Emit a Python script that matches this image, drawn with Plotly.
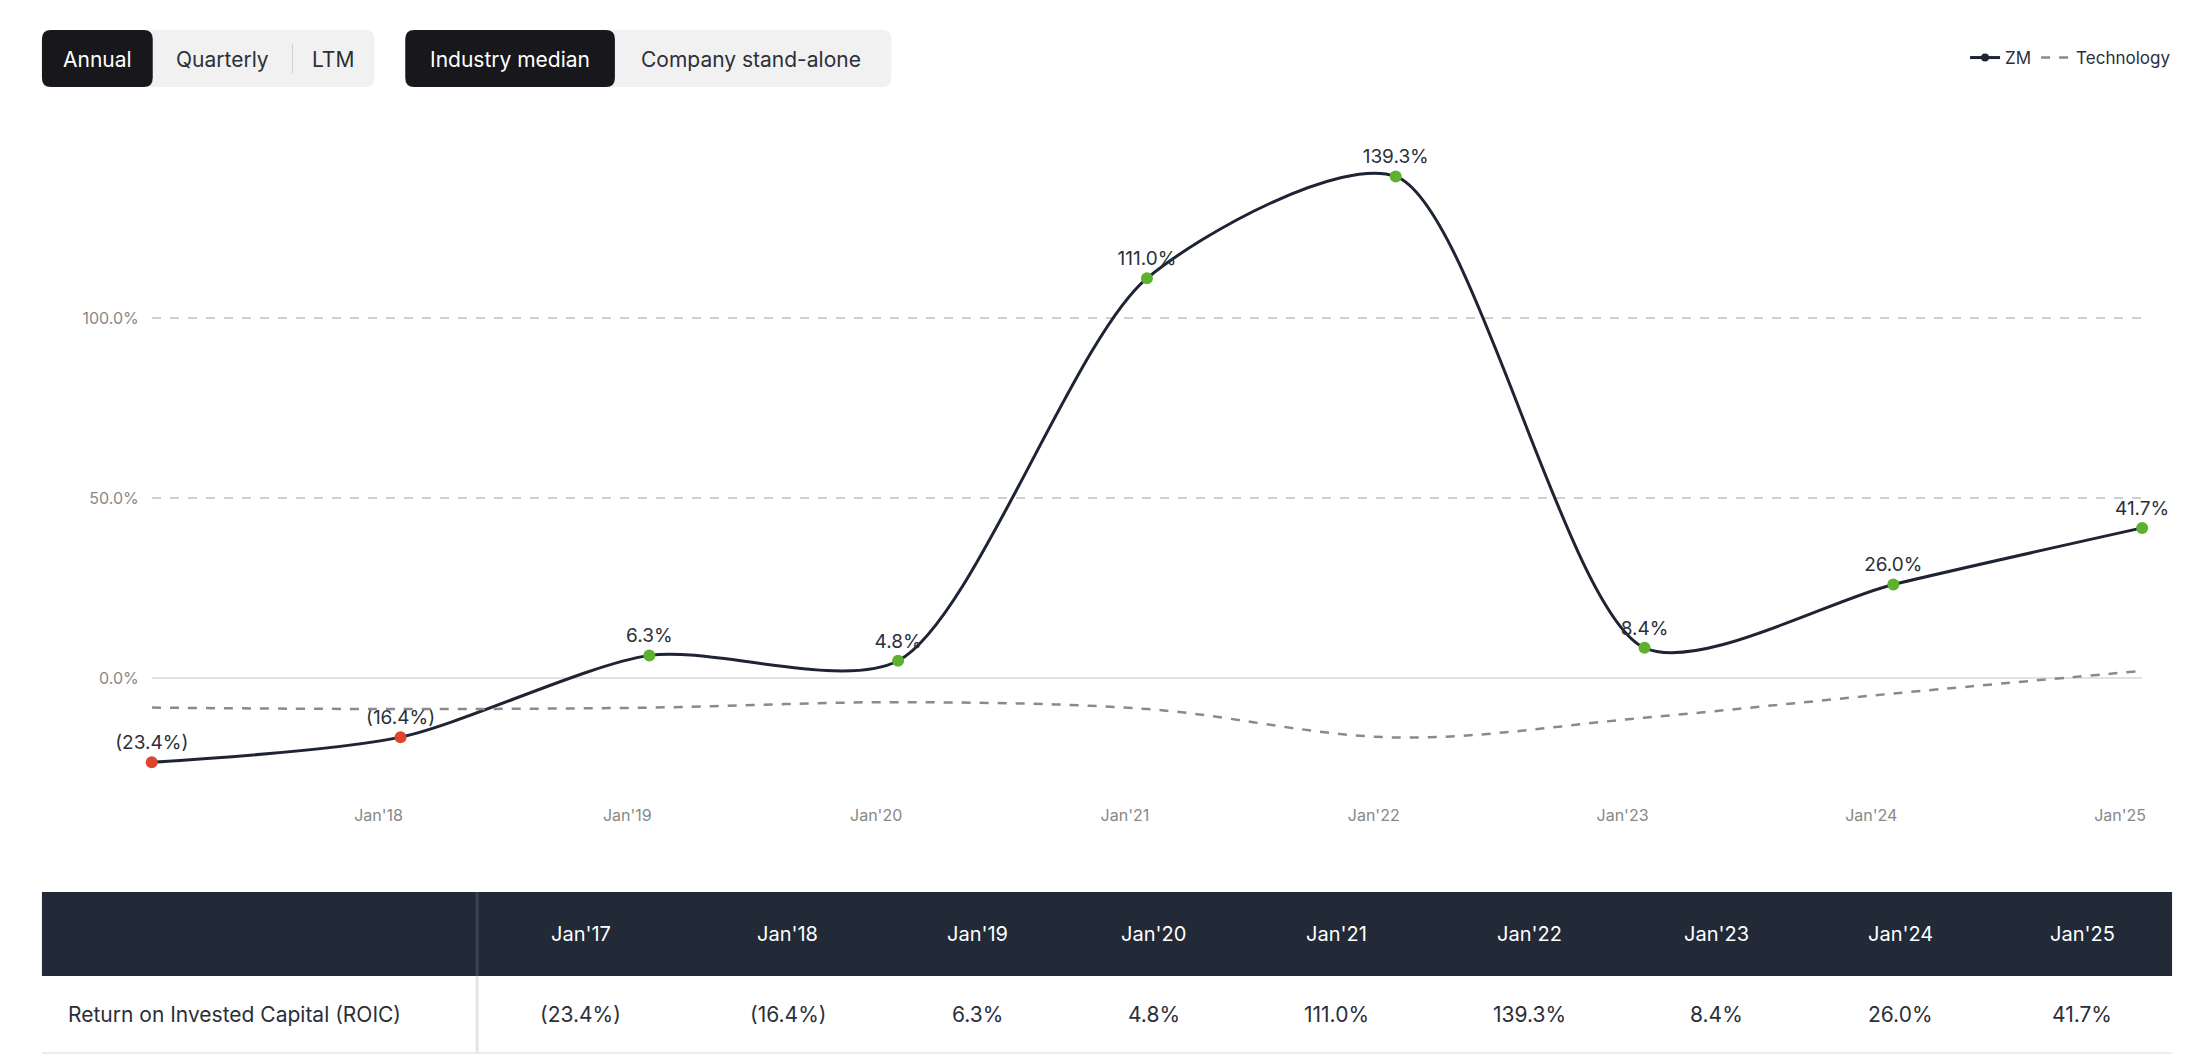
import plotly.graph_objects as go

W, H = 2202, 1058

# data
periods = ["Jan'17", "Jan'18", "Jan'19", "Jan'20", "Jan'21", "Jan'22", "Jan'23", "Jan'24", "Jan'25"]
zm_roic = [-23.4, -16.4, 6.3, 4.8, 111.0, 139.3, 8.4, 26.0, 41.7]
tech_roic = [-8.2, -8.6, -8.2, -6.7, -8.6, -16.5, -11.0, -4.3, 2.0]
row_label = "Return on Invested Capital (ROIC)"


def fmt(v):
    return f"({abs(v):.1f}%)" if v < 0 else f"{v:.1f}%"


def px(x):
    return x / W


def py(y):
    return 1 - y / H


FONT = "Inter, Roboto, sans-serif"
DARK = "#1e2433"
xs = list(range(len(periods)))

fig = go.Figure()

fig.add_trace(go.Scatter(
    x=xs, y=zm_roic, mode="lines+markers+text", showlegend=False,
    line=dict(color=DARK, width=3, shape="spline", smoothing=0.75),
    marker=dict(size=12, color=["#e0442b" if v < 0 else "#5db12f" for v in zm_roic]),
    text=[fmt(v) for v in zm_roic], textposition="top center",
    textfont=dict(size=19, color="#2b2f3a", family=FONT),
    cliponaxis=False,
))
fig.add_trace(go.Scatter(
    x=xs, y=tech_roic, name="Technology", mode="lines",
    line=dict(color="#8a8a8a", width=2.5, dash="dash", shape="spline", smoothing=1.0),
    hoverinfo="skip",
))
# legend-only entry for ZM with dark marker
fig.add_trace(go.Scatter(
    x=[None], y=[None], name="ZM", mode="lines+markers",
    line=dict(color=DARK, width=3), marker=dict(size=8, color=DARK),
))

shapes = []
annotations = []


def rounded(x0, y0, x1, y1, r, color):
    # rounded rect in paper coords (given pixel values)
    path = (f"M {px(x0 + r)},{py(y0)} L {px(x1 - r)},{py(y0)} "
            f"Q {px(x1)},{py(y0)} {px(x1)},{py(y0 + r)} L {px(x1)},{py(y1 - r)} "
            f"Q {px(x1)},{py(y1)} {px(x1 - r)},{py(y1)} L {px(x0 + r)},{py(y1)} "
            f"Q {px(x0)},{py(y1)} {px(x0)},{py(y1 - r)} L {px(x0)},{py(y0 + r)} "
            f"Q {px(x0)},{py(y0)} {px(x0 + r)},{py(y0)} Z")
    shapes.append(dict(type="path", xref="paper", yref="paper", path=path,
                       fillcolor=color, line=dict(width=0)))


# toggle buttons
def button_group(x0, x1, dark_x1, labels, divider=None):
    rounded(x0, 22, x1, 79, 9, "#f1f1f1")
    rounded(x0, 22, dark_x1, 79, 9, "#18171c")
    if divider:
        shapes.append(dict(type="line", xref="paper", yref="paper", x0=px(divider), x1=px(divider),
                           y0=py(66), y1=py(36), line=dict(color="#d0d0d0", width=1)))
    for cx, txt, white in labels:
        annotations.append(dict(xref="paper", yref="paper", x=px(cx), y=py(51), text=txt,
                                xanchor="center", yanchor="middle", showarrow=False,
                                font=dict(size=21, family=FONT,
                                          color="white" if white else "#2b2f3a")))


button_group(34, 367, 145, [(90, "Annual", True), (215, "Quarterly", False), (326, "LTM", False)], divider=285)
button_group(398, 885, 608, [(503, "Industry median", True), (744, "Company stand-alone", False)])

# table
shapes.append(dict(type="rect", xref="paper", yref="paper", x0=px(34), x1=px(2168),
                   y0=py(968), y1=py(884), fillcolor="#222a38", line=dict(width=0)))
shapes.append(dict(type="line", xref="paper", yref="paper", x0=px(34), x1=px(2168),
                   y0=py(1045), y1=py(1045), line=dict(color="#ececec", width=2)))
shapes.append(dict(type="line", xref="paper", yref="paper", x0=px(470), x1=px(470),
                   y0=py(968), y1=py(884), line=dict(color="#3a4150", width=3)))
shapes.append(dict(type="line", xref="paper", yref="paper", x0=px(470), x1=px(470),
                   y0=py(1045), y1=py(968), line=dict(color="#e4e4e4", width=3)))
col_x = [574, 781, 971, 1148, 1331, 1524, 1712, 1896, 2078]
for cx, p, v in zip(col_x, periods, zm_roic):
    annotations.append(dict(xref="paper", yref="paper", x=px(cx), y=py(926), text=p,
                            xanchor="center", yanchor="middle", showarrow=False,
                            font=dict(size=20, color="white", family=FONT)))
    annotations.append(dict(xref="paper", yref="paper", x=px(cx), y=py(1006), text=fmt(v),
                            xanchor="center", yanchor="middle", showarrow=False,
                            font=dict(size=21, color="#2b2f3a", family=FONT)))
annotations.append(dict(xref="paper", yref="paper", x=px(58), y=py(1006), text=row_label,
                        xanchor="left", yanchor="middle", showarrow=False,
                        font=dict(size=21, color="#2b2f3a", family=FONT)))

fig.update_layout(
    width=W, height=H,
    margin=dict(l=0, r=0, t=0, b=0),
    paper_bgcolor="white", plot_bgcolor="rgba(0,0,0,0)",
    font=dict(family=FONT),
    shapes=shapes, annotations=annotations,
    showlegend=True,
    legend=dict(orientation="h", x=px(2172), xanchor="right", y=py(50), yanchor="middle",
                font=dict(size=17, color="#2b2f3a"), traceorder="reversed",
                bgcolor="rgba(0,0,0,0)"),
    xaxis=dict(domain=[px(144), px(2138)], range=[0, 8], showgrid=False, zeroline=False,
               showline=False, tickvals=xs[1:], ticktext=periods[1:], ticks="",
               ticklabelshift=-22, ticklabelstandoff=6,
               tickfont=dict(size=16, color="#888888")),
    yaxis=dict(domain=[py(790), py(127)], range=[-33.3, 150.8],
               tickvals=[0, 50, 100], ticktext=["0.0%", "50.0%", "100.0%"],
               showgrid=True, gridcolor="#cfcfcf", griddash="dash", gridwidth=1.5,
               zeroline=True, zerolinecolor="#e2e2e2", zerolinewidth=1.5,
               ticks="", ticklabelstandoff=12,
               tickfont=dict(size=16, color="#888888")),
)

fig.write_html("out.html")
